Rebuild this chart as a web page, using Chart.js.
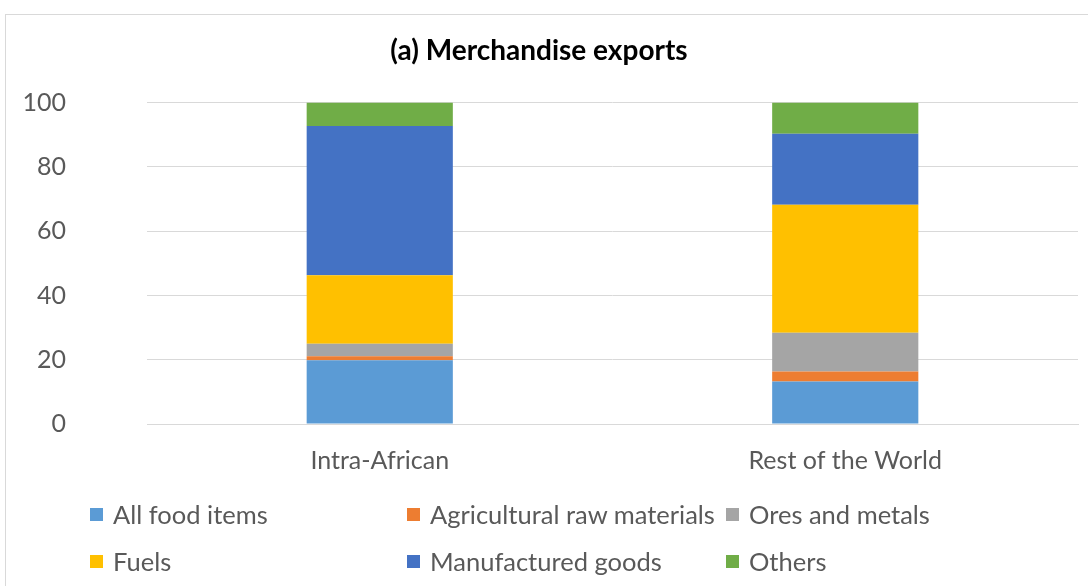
<!DOCTYPE html>
<html>
<head>
<meta charset="utf-8">
<script src="https://cdn.jsdelivr.net/npm/chart.js@4/dist/chart.umd.min.js"></script>
<style>
  html, body { margin: 0; padding: 0; background: #fff; overflow: hidden; }
  #wrap { position: relative; width: 1088px; height: 586px; }
  #frame { position: absolute; left: 5px; top: 14px; width: 1200px; height: 700px; border: 1px solid #d9d9d9; box-sizing: border-box; }
  canvas { position: absolute; left: 0; top: 0; }
  #legend { position: absolute; left: 0; top: 0; font-family: Lato, sans-serif; font-size: 25.5px; color: #595959; }
  .item { position: absolute; display: flex; align-items: center; white-space: nowrap; height: 28px; }
  .box { width: 13px; height: 13px; margin-right: 10px; }
</style>
</head>
<body>
<div id="wrap">
  <div id="frame"></div>
  <canvas id="chart" width="1088" height="586"></canvas>
  <div id="legend"></div>
</div>
<script>
// --- data ---
const categories = ['Intra-African', 'Rest of the World'];
const seriesNames = ['All food items', 'Agricultural raw materials', 'Ores and metals', 'Fuels', 'Manufactured goods', 'Others'];
const foodItems = [19.8, 13.2];
const agriRaw = [1.3, 3.1];
const oresMetals = [3.9, 12.1];
const fuels = [21.3, 39.8];
const manufactured = [46.4, 22.1];
const others = [7.3, 9.7];
const yTicks = [0, 20, 40, 60, 80, 100];

const colors = ['#5B9BD5', '#ED7D31', '#A5A5A5', '#FFC000', '#4472C4', '#70AD47'];
const values = [foodItems, agriRaw, oresMetals, fuels, manufactured, others];

const FONT = 'Lato, sans-serif';
const TEXT = '#595959';

const datasets = seriesNames.map((name, i) => ({
    label: name,
    data: values[i],
    backgroundColor: colors[i],
    borderWidth: 0,
    barPercentage: 0.314,
    categoryPercentage: 1.0
}));

new Chart(document.getElementById('chart'), {
    type: 'bar',
    data: { labels: categories, datasets: datasets },
    options: {
        responsive: false,
        animation: false,
        layout: { padding: { left: 0, right: 10, top: 14, bottom: 102 } },
        plugins: {
            legend: { display: false },
            tooltip: { enabled: false },
            title: {
                display: true,
                text: '(a) Merchandise exports',
                color: '#000',
                font: { family: FONT, size: 28, weight: 'bold', lineHeight: 1.2 },
                padding: { top: 20, bottom: 35 }
            }
        },
        scales: {
            x: {
                stacked: true,
                grid: { display: false, drawTicks: false },
                border: { color: '#d9d9d9', width: 1 },
                ticks: { color: TEXT, font: { family: FONT, size: 25 }, padding: 22 },
                afterFit: s => { s.height = 60; }
            },
            y: {
                stacked: true,
                min: 0,
                max: 100,
                afterBuildTicks: s => { s.ticks = yTicks.map(v => ({ value: v })); },
                grid: { color: '#d9d9d9', lineWidth: 1, drawTicks: false },
                border: { display: false },
                ticks: { color: TEXT, font: { family: FONT, size: 25 }, padding: 81 },
                afterFit: s => { s.width = 147; }
            }
        }
    }
});

// legend laid out in a fixed grid like the original
const legendPos = [[90, 514], [407, 514], [726, 514], [90, 561], [407, 561], [726, 561]];
const legend = document.getElementById('legend');
seriesNames.forEach((name, i) => {
    const el = document.createElement('div');
    el.className = 'item';
    el.style.left = legendPos[i][0] + 'px';
    el.style.top = (legendPos[i][1] - 14) + 'px';
    el.innerHTML = '<span class="box" style="background:' + colors[i] + '"></span>' + name;
    legend.appendChild(el);
});
</script>
</body>
</html>
